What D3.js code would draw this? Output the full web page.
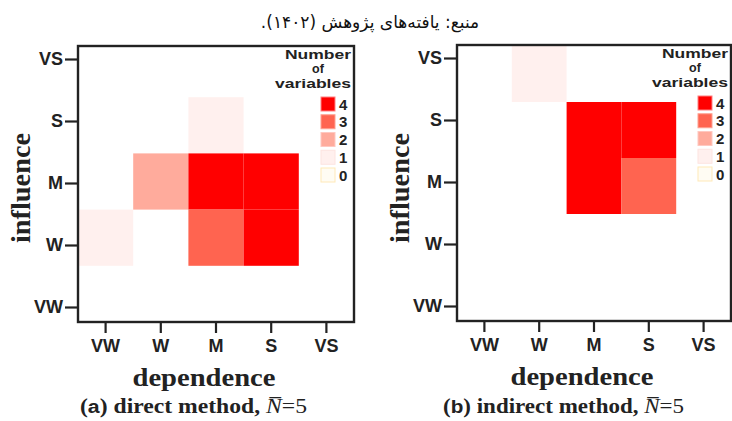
<!DOCTYPE html>
<html><head><meta charset="utf-8">
<script src="https://cdn.jsdelivr.net/npm/d3@7"></script>
<style>html,body{margin:0;padding:0;background:#fff;}</style>
</head><body>
<svg id="chart" width="732" height="421"></svg>
<script>
// ---- data ----
const levels = ["VW", "W", "M", "S", "VS"];
const legendValues = [4, 3, 2, 1, 0];
const legendColors = ["#ff0000", "#ff6450", "#ffab9c", "#fff0ee", "#fffcf3"];
const legendStrokes = ["#ff8080", "#ffa090", "#ffc8c0", "#fde4e0", "#ffe9b8"];

const directDependence = ["VW", "W", "M", "M", "S", "M", "S"];
const directInfluence  = ["W",  "M", "S", "M", "M", "W", "W"];
const directCount      = [1, 2, 1, 4, 4, 3, 4];

const indirectDependence = ["W",  "M", "S", "M", "S"];
const indirectInfluence  = ["VS", "S", "S", "M", "M"];
const indirectCount      = [1, 4, 4, 4, 3];

const titleText = "منبع: یافته‌های پژوهش (۱۴۰۲).";
const xTitle = "dependence";
const yTitle = "influence";
const legendTitle = ["Number", "of", "variables"];
const legendTitleWidths = [66, 0, 76];

const panels = [
  {letter: "a", label: " direct method, ", dep: directDependence, inf: directInfluence, cnt: directCount,
   x0: 78, x1: 354, y0: 46, y1: 322, cellTop: 41, cellBottom: 322, capX: 80, capW: 227},
  {letter: "b", label: " indirect method, ", dep: indirectDependence, inf: indirectInfluence, cnt: indirectCount,
   x0: 457, x1: 731, y0: 45, y1: 321, cellTop: 46, cellBottom: 326, capX: 443, capW: 241}
];

const svg = d3.select("#chart");
const color = d3.scaleOrdinal().domain(legendValues).range(legendColors);
const strokeC = d3.scaleOrdinal().domain(legendValues).range(legendStrokes);
const sans = "'Liberation Sans', Arial, sans-serif";
const serif = "'Liberation Serif', 'Times New Roman', serif";
const ink = "#222";

svg.append("text")
  .attr("x", 370).attr("y", 28)
  .attr("text-anchor", "middle")
  .attr("direction", "rtl")
  .attr("font-family", "'DejaVu Sans', sans-serif")
  .attr("font-size", 17)
  .attr("fill", "#111")
  .text(titleText);

panels.forEach(p => {
  const g = svg.append("g");
  const x = d3.scaleBand().domain(levels).range([p.x0, p.x1]);
  const yCell = d3.scaleBand().domain(levels).range([p.cellBottom, p.cellTop]);
  const yTick = d3.scalePoint().domain(levels).range([p.y1 - 15, p.y0 + 13]);

  const cells = p.dep.map((d, i) => ({dep: d, inf: p.inf[i], n: p.cnt[i]}));
  g.selectAll("rect.cell").data(cells).join("rect")
    .attr("class", "cell")
    .attr("x", d => x(d.dep))
    .attr("y", d => yCell(d.inf))
    .attr("width", x.bandwidth())
    .attr("height", yCell.bandwidth())
    .attr("fill", d => color(d.n));

  // frame
  g.append("rect")
    .attr("x", p.x0).attr("y", p.y0)
    .attr("width", p.x1 - p.x0).attr("height", p.y1 - p.y0)
    .attr("fill", "none").attr("stroke", ink).attr("stroke-width", 2.4);

  // x axis
  const xa = g.append("g").attr("transform", `translate(0,${p.y1})`)
    .call(d3.axisBottom(x).tickSize(11).tickPadding(6));
  xa.select(".domain").remove();
  xa.selectAll("line").attr("stroke", ink).attr("stroke-width", 2.2);
  xa.selectAll("text").attr("font-family", sans).attr("font-weight", "bold")
    .attr("font-size", 18).attr("fill", ink);

  // y axis
  const ya = g.append("g").attr("transform", `translate(${p.x0},0)`)
    .call(d3.axisLeft(yTick).tickSize(13).tickPadding(2));
  ya.select(".domain").remove();
  ya.selectAll("line").attr("stroke", ink).attr("stroke-width", 2.2);
  ya.selectAll("text").attr("font-family", sans).attr("font-weight", "bold")
    .attr("font-size", 18).attr("fill", ink);

  // axis titles
  g.append("text")
    .attr("x", (p.x0 + p.x1) / 2 - 12).attr("y", p.y1 + 64)
    .attr("text-anchor", "middle")
    .attr("font-family", serif).attr("font-weight", "bold")
    .attr("font-size", 25).attr("fill", ink)
    .attr("textLength", 143).attr("lengthAdjust", "spacingAndGlyphs")
    .text(xTitle);

  g.append("text")
    .attr("transform", `translate(${p.x0 - 48},188) rotate(-90)`)
    .attr("text-anchor", "middle")
    .attr("font-family", serif).attr("font-weight", "bold")
    .attr("font-size", 28).attr("fill", ink)
    .attr("textLength", 110).attr("lengthAdjust", "spacingAndGlyphs")
    .text(yTitle);

  // caption
  const cap = g.append("text")
    .attr("x", p.capX).attr("y", 413)
    .attr("font-family", serif).attr("font-weight", "bold")
    .attr("font-size", 20).attr("fill", ink)
    .attr("textLength", p.capW).attr("lengthAdjust", "spacingAndGlyphs");
  cap.append("tspan").text("(");
  cap.append("tspan").attr("font-family", sans).attr("font-size", 18).text(p.letter);
  cap.append("tspan").text(")");
  cap.append("tspan").text(p.label);
  cap.append("tspan").attr("font-style", "italic").attr("font-weight", "normal").text("N\u0305");
  cap.append("tspan").attr("font-weight", "normal").text("=5");

  // legend
  const lg = g.append("g");
  legendTitle.forEach((t, i) => {
    const tx = lg.append("text")
      .attr("x", p.x1 - 3).attr("y", p.y0 + 13 + i * 14.4)
      .attr("text-anchor", i === 1 ? "middle" : "end")
      .attr("font-family", sans).attr("font-weight", "bold")
      .attr("font-size", 12.5).attr("fill", ink)
      .text(t);
    if (i === 1) tx.attr("x", p.x1 - 3 - legendTitleWidths[0] / 2);
    if (legendTitleWidths[i] > 0) tx.attr("textLength", legendTitleWidths[i]).attr("lengthAdjust", "spacingAndGlyphs");
  });
  const ly = d3.scalePoint().domain(legendValues).range([p.y0 + 51, p.y0 + 122]);
  lg.selectAll("rect.leg").data(legendValues).join("rect")
    .attr("class", "leg")
    .attr("x", p.x1 - 33).attr("y", d => ly(d))
    .attr("width", 14).attr("height", 14)
    .attr("fill", d => color(d))
    .attr("stroke", d => strokeC(d)).attr("stroke-width", 1);
  lg.selectAll("text.legl").data(legendValues).join("text")
    .attr("class", "legl")
    .attr("x", p.x1 - 15).attr("y", d => ly(d) + 12.5)
    .attr("font-family", sans).attr("font-weight", "bold")
    .attr("font-size", 15).attr("fill", ink)
    .text(d => d);
});
</script>
</body></html>
